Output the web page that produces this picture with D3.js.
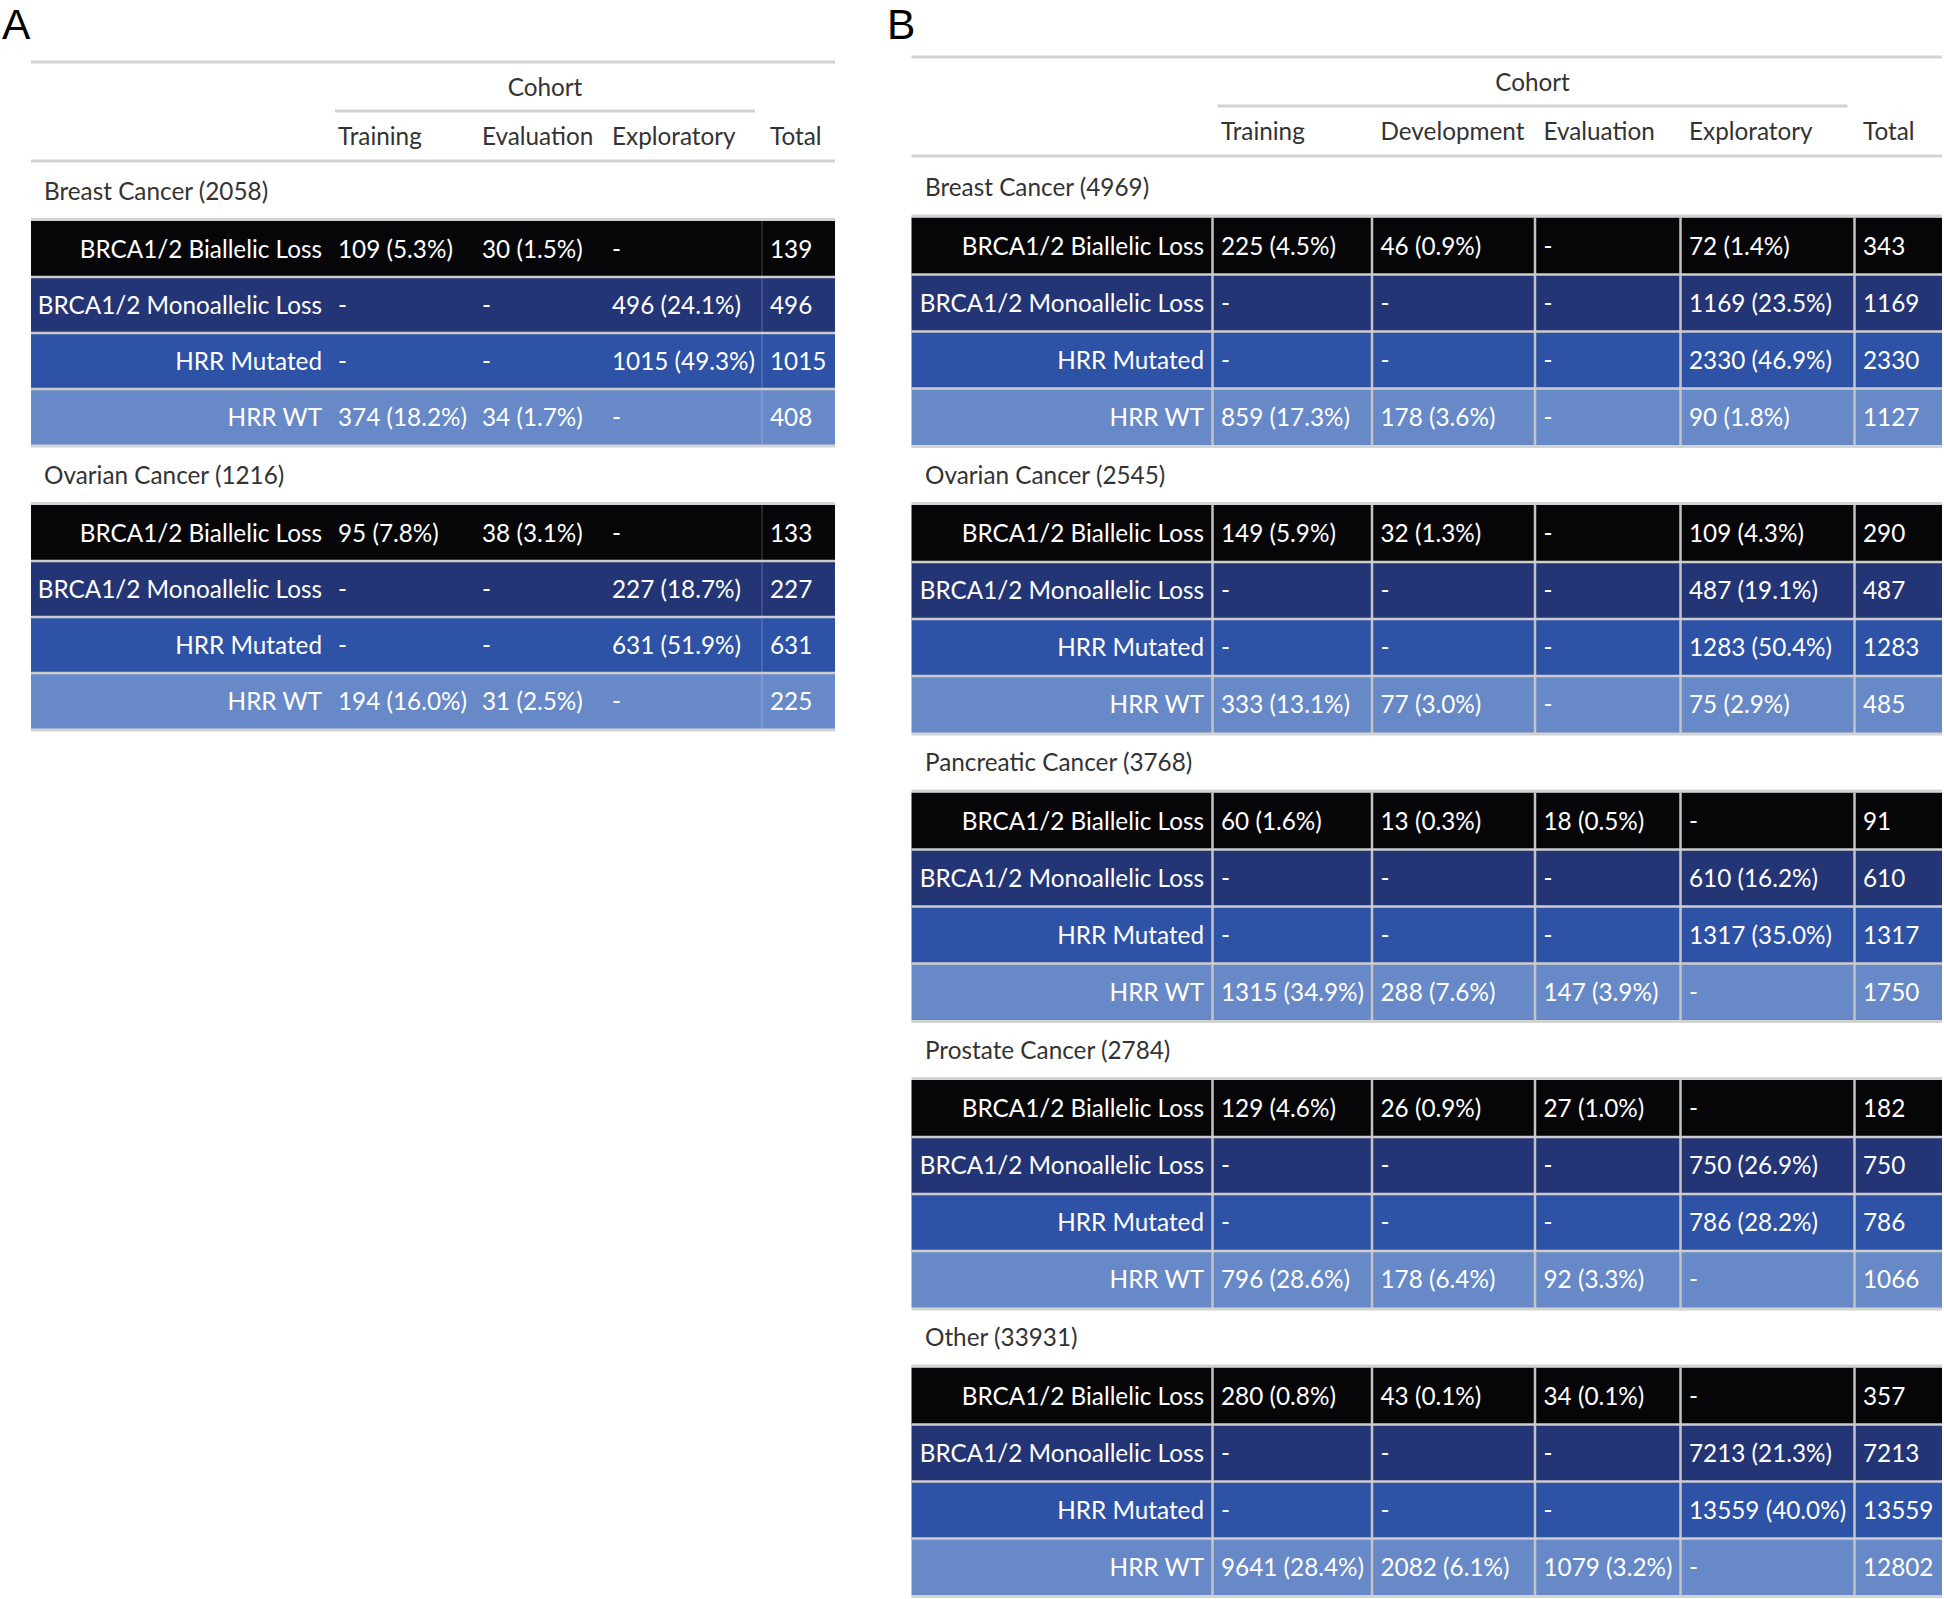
<!DOCTYPE html>
<html>
<head>
<meta charset="utf-8">
<script src="https://cdn.jsdelivr.net/npm/d3@7"></script>
<style>
  html, body { margin: 0; padding: 0; background: #ffffff; }
  svg { display: block; }
</style>
</head>
<body>
<script>
// ---------------- DATA ----------------
const rowLabels = ["BRCA1/2 Biallelic Loss", "BRCA1/2 Monoallelic Loss", "HRR Mutated", "HRR WT"];

// Panel A
const colsA = ["Training", "Evaluation", "Exploratory"];
const groupsA = ["Breast Cancer (2058)", "Ovarian Cancer (1216)"];
const countsA_breast = [[109, 30, null], [null, null, 496], [null, null, 1015], [374, 34, null]];
const pctA_breast    = [[5.3, 1.5, null], [null, null, 24.1], [null, null, 49.3], [18.2, 1.7, null]];
const totalsA_breast = [139, 496, 1015, 408];
const countsA_ovarian = [[95, 38, null], [null, null, 227], [null, null, 631], [194, 31, null]];
const pctA_ovarian    = [[7.8, 3.1, null], [null, null, 18.7], [null, null, 51.9], [16.0, 2.5, null]];
const totalsA_ovarian = [133, 227, 631, 225];

// Panel B
const colsB = ["Training", "Development", "Evaluation", "Exploratory"];
const groupsB = ["Breast Cancer (4969)", "Ovarian Cancer (2545)", "Pancreatic Cancer (3768)", "Prostate Cancer (2784)", "Other (33931)"];
const countsB_breast = [[225, 46, null, 72], [null, null, null, 1169], [null, null, null, 2330], [859, 178, null, 90]];
const pctB_breast    = [[4.5, 0.9, null, 1.4], [null, null, null, 23.5], [null, null, null, 46.9], [17.3, 3.6, null, 1.8]];
const totalsB_breast = [343, 1169, 2330, 1127];
const countsB_ovarian = [[149, 32, null, 109], [null, null, null, 487], [null, null, null, 1283], [333, 77, null, 75]];
const pctB_ovarian    = [[5.9, 1.3, null, 4.3], [null, null, null, 19.1], [null, null, null, 50.4], [13.1, 3.0, null, 2.9]];
const totalsB_ovarian = [290, 487, 1283, 485];
const countsB_pancreatic = [[60, 13, 18, null], [null, null, null, 610], [null, null, null, 1317], [1315, 288, 147, null]];
const pctB_pancreatic    = [[1.6, 0.3, 0.5, null], [null, null, null, 16.2], [null, null, null, 35.0], [34.9, 7.6, 3.9, null]];
const totalsB_pancreatic = [91, 610, 1317, 1750];
const countsB_prostate = [[129, 26, 27, null], [null, null, null, 750], [null, null, null, 786], [796, 178, 92, null]];
const pctB_prostate    = [[4.6, 0.9, 1.0, null], [null, null, null, 26.9], [null, null, null, 28.2], [28.6, 6.4, 3.3, null]];
const totalsB_prostate = [182, 750, 786, 1066];
const countsB_other = [[280, 43, 34, null], [null, null, null, 7213], [null, null, null, 13559], [9641, 2082, 1079, null]];
const pctB_other    = [[0.8, 0.1, 0.1, null], [null, null, null, 21.3], [null, null, null, 40.0], [28.4, 6.1, 3.2, null]];
const totalsB_other = [357, 7213, 13559, 12802];

// ---------------- STYLE ----------------
const FONT = "Lato, 'Noto Sans', sans-serif";
const FS = 24.3;
const rowColors = ["#060609", "#243576", "#2d52a6", "#6889c7"];
const lineColor = "#d3d3d3";
const textDark = "#333333";

const svg = d3.select("body").append("svg")
  .attr("width", 1944).attr("height", 1599)
  .style("font-family", FONT);

function fmt(c, p) {
  return c == null ? "-" : `${c} (${p.toFixed(1)}%)`;
}

function drawPanel(cfg) {
  const g = svg.append("g");
  const keys = ["label", ...cfg.cols, "Total"];
  const xEdge = d3.scaleOrdinal().domain(keys).range(cfg.edges);
  const left = cfg.edges[0], right = cfg.right;
  const pad = cfg.pad;

  // panel letter
  g.append("text").attr("x", cfg.letterX).attr("y", 39)
    .style("font-family", "'Liberation Sans', Arial, sans-serif")
    .style("font-size", "42.5px").attr("fill", "#000").text(cfg.letter);

  // header lines
  const hl = (y, x1, x2, w) => g.append("line").attr("x1", x1).attr("x2", x2)
    .attr("y1", y).attr("y2", y).attr("stroke", lineColor).attr("stroke-width", w);
  hl(cfg.topLine, left, right, 3);
  const spanL = xEdge(cfg.cols[0]) + 5, spanR = xEdge("Total") - 7;
  hl(cfg.topLine + 49, spanL, spanR, 3);
  hl(cfg.topLine + 99, left, right, 3);

  g.append("text").attr("x", (spanL + spanR) / 2).attr("y", cfg.topLine + 34)
    .attr("text-anchor", "middle").attr("fill", textDark)
    .style("font-size", FS + "px").text("Cohort");

  g.selectAll("text.colhead").data([...cfg.cols, "Total"]).join("text")
    .attr("class", "colhead")
    .attr("x", d => xEdge(d) + pad).attr("y", cfg.topLine + 83)
    .attr("fill", textDark).style("font-size", FS + "px").text(d => d);

  const gy = d3.scaleLinear().domain([0, cfg.groups.length - 1 || 1])
    .range([cfg.groupTop0, cfg.groupTop0 + cfg.groupStep * (cfg.groups.length - 1 || 1)]);

  cfg.groups.forEach((gname, gi) => {
    const top = gy(gi);
    const yb = d3.scaleBand().domain(rowLabels)
      .range([top + 1.5, top + 1.5 + cfg.rowH * rowLabels.length]);
    const gg = g.append("g");

    gg.append("text").attr("x", cfg.groupLabelX).attr("y", top - 20)
      .attr("fill", textDark).style("font-size", FS + "px").text(gname);

    gg.selectAll("rect.row").data(rowLabels).join("rect")
      .attr("class", "row")
      .attr("x", left).attr("width", right - left)
      .attr("y", d => yb(d)).attr("height", yb.bandwidth())
      .attr("fill", (d, i) => rowColors[i]);

    // vertical separators
    gg.selectAll("line.v").data(cfg.vlines).join("line")
      .attr("class", "v")
      .attr("x1", d => xEdge(d)).attr("x2", d => xEdge(d))
      .attr("y1", yb.range()[0]).attr("y2", yb.range()[1])
      .attr("stroke", cfg.vColor).attr("stroke-width", cfg.vWidth);

    // row separators
    gg.selectAll("line.h").data(rowLabels.slice(1)).join("line")
      .attr("class", "h")
      .attr("x1", left).attr("x2", right)
      .attr("y1", d => yb(d)).attr("y2", d => yb(d))
      .attr("stroke", "#cdcdcd").attr("stroke-width", 2.5);

    hl(top, left, right, 3);
    hl(yb.range()[1] + 1, left, right, 3);

    // labels
    gg.selectAll("text.rl").data(rowLabels).join("text")
      .attr("class", "rl")
      .attr("x", xEdge(cfg.cols[0]) - pad)
      .attr("y", d => yb(d) + yb.bandwidth() / 2 + FS * 0.37)
      .attr("text-anchor", "end").attr("fill", "#ffffff")
      .style("font-size", FS + "px").text(d => d);

    const counts = cfg.counts[gi], pcts = cfg.pcts[gi], totals = cfg.totals[gi];
    const cells = [];
    rowLabels.forEach((r, ri) => {
      cfg.cols.forEach((c, ci) => cells.push({ r, c, t: fmt(counts[ri][ci], pcts[ri][ci]) }));
      cells.push({ r, c: "Total", t: String(totals[ri]) });
    });
    gg.selectAll("text.cell").data(cells).join("text")
      .attr("class", "cell")
      .attr("x", d => xEdge(d.c) + pad)
      .attr("y", d => yb(d.r) + yb.bandwidth() / 2 + FS * 0.37)
      .attr("fill", "#ffffff").style("font-size", FS + "px").text(d => d.t);
  });
}

drawPanel({
  letter: "A", letterX: 2,
  cols: colsA,
  edges: [31, 330, 474, 604, 762], right: 835, pad: 8,
  topLine: 62,
  groups: groupsA, groupLabelX: 44,
  groupTop0: 219.5, groupStep: 284, rowH: 56,
  counts: [countsA_breast, countsA_ovarian],
  pcts: [pctA_breast, pctA_ovarian],
  totals: [totalsA_breast, totalsA_ovarian],
  vlines: ["Total"], vColor: "rgba(255,255,255,0.18)", vWidth: 1.5
});

drawPanel({
  letter: "B", letterX: 887,
  cols: colsB,
  edges: [911.5, 1212.5, 1372, 1535, 1680.5, 1854.5], right: 1942, pad: 8.5,
  topLine: 57,
  groups: groupsB, groupLabelX: 925,
  groupTop0: 216, groupStep: 287.5, rowH: 57,
  counts: [countsB_breast, countsB_ovarian, countsB_pancreatic, countsB_prostate, countsB_other],
  pcts: [pctB_breast, pctB_ovarian, pctB_pancreatic, pctB_prostate, pctB_other],
  totals: [totalsB_breast, totalsB_ovarian, totalsB_pancreatic, totalsB_prostate, totalsB_other],
  vlines: ["Training", "Development", "Evaluation", "Exploratory", "Total"],
  vColor: "#c4c4c4", vWidth: 2.5
});
</script>
</body>
</html>
